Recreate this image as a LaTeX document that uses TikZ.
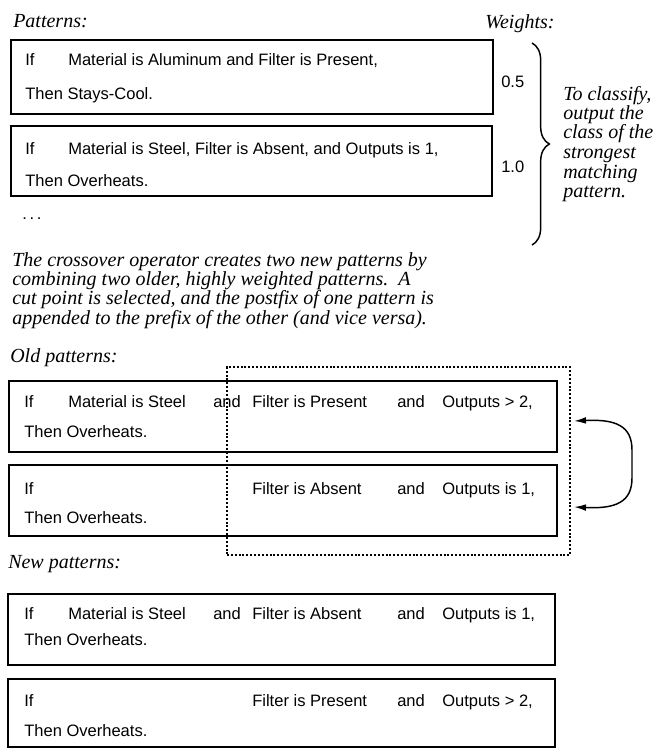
\documentclass[tikz,border=0pt]{standalone}
\usepackage{fontspec}
\setmainfont{Liberation Serif}
\setsansfont{Liberation Sans}
\usetikzlibrary{decorations.pathreplacing,arrows.meta,fit}
\begin{document}
\begin{tikzpicture}[x=0.75pt,y=-0.75pt,
  sanst/.style={font=\sffamily\fontsize{12.4}{14}\selectfont, inner sep=0, anchor=base west},
  itt/.style={font=\itshape\fontsize{15}{15}\selectfont, inner sep=0, anchor=base west},
  pbox/.style={draw, line width=1.4pt, inner sep=0},
  cutbox/.style={draw, line width=1.1pt, dash pattern=on 1.5pt off 1.4pt, inner sep=0},
  swap/.style={{Latex[length=9pt,width=5pt]}-{Latex[length=9pt,width=5pt]}, line width=1.1pt},
  bracestyle/.style={decorate, decoration={brace, amplitude=13pt}, line width=1.1pt},
]
\useasboundingbox (0,0) rectangle (659,750);

% headings
\node[itt] (hpat) at (13,27) {Patterns:};
\node[itt] (hw) at (485,28) {Weights:};

% pattern 1
\node[pbox, fit={(11,40) (493,114)}] (b1) {};
\node[sanst] (b1if) at (25,65) {If};
\node[sanst] (b1c) at (68,65) {Material is Aluminum and Filter is Present,};
\node[sanst] (b1t) at (25,99) {Then Stays-Cool.};
\node[sanst] (w1) at (501,87) {0.5};

% pattern 2
\node[pbox, fit={(11,126) (492,196)}] (b2) {};
\node[sanst] (b2if) at (25,154) {If};
\node[sanst] (b2c) at (68,154) {Material is Steel, Filter is Absent, and Outputs is 1,};
\node[sanst] (b2t) at (25,186) {Then Overheats.};
\node[sanst] (w2) at (501,172) {1.0};

\node[sanst] (dots) at (22,219) {.\,.\,.};

% brace and note
\coordinate (br1) at (532,43);
\coordinate (br2) at (532,245);
\draw[bracestyle] (br1) -- (br2);
\node[itt] (r1) at (563,100) {To classify,};
\node[itt] (r2) at (563,119) {output the};
\node[itt] (r3) at (563,138) {class of the};
\node[itt] (r4) at (563,158) {strongest};
\node[itt] (r5) at (563,178) {matching};
\node[itt] (r6) at (563,197) {pattern.};

% paragraph
\node[itt] (p1) at (12,266) {The crossover operator creates two new patterns by};
\node[itt] (p2) at (12,285) {combining two older, highly weighted patterns.\ \ A};
\node[itt] (p3) at (12,304) {cut point is selected, and the postfix of one pattern is};
\node[itt] (p4) at (12,324) {appended to the prefix of the other (and vice versa).};

% old patterns
\node[itt] (hold) at (10,362) {Old patterns:};
\node[pbox, fit={(9,381) (557,452)}] (o1) {};
\node[sanst] (o1if) at (24,407) {If};
\node[sanst] (o1a) at (68,407) {Material is Steel};
\node[sanst] (o1b) at (213,407) {and};
\node[sanst] (o1c) at (252,407) {Filter is Present};
\node[sanst] (o1d) at (397,407) {and};
\node[sanst] (o1e) at (442,407) {Outputs > 2,};
\node[sanst] (o1t) at (24,437) {Then Overheats.};

\node[pbox, fit={(9,465) (557,536)}] (o2) {};
\node[sanst] (o2if) at (24,494) {If};
\node[sanst] (o2c) at (252,494) {Filter is Absent};
\node[sanst] (o2d) at (397,494) {and};
\node[sanst] (o2e) at (442,494) {Outputs is 1,};
\node[sanst] (o2t) at (24,523) {Then Overheats.};

% cut region
\node[cutbox, fit={(227,367) (570,555)}] (cut) {};
\coordinate (a1) at (574,421);
\coordinate (a2) at (574,507);
\draw[swap] (a1) .. controls (616,419) and (632,426) .. (632,450)
  -- (632,478) .. controls (632,502) and (616,509) .. (a2);

% new patterns
\node[itt] (hnew) at (8,568) {New patterns:};
\node[pbox, fit={(8,594) (555,665)}] (n1) {};
\node[sanst] (n1if) at (24,619) {If};
\node[sanst] (n1a) at (68,619) {Material is Steel};
\node[sanst] (n1b) at (213,619) {and};
\node[sanst] (n1c) at (252,619) {Filter is Absent};
\node[sanst] (n1d) at (397,619) {and};
\node[sanst] (n1e) at (442,619) {Outputs is 1,};
\node[sanst] (n1t) at (24,645) {Then Overheats.};

\node[pbox, fit={(8,679) (555,747)}] (n2) {};
\node[sanst] (n2if) at (24,706) {If};
\node[sanst] (n2c) at (252,706) {Filter is Present};
\node[sanst] (n2d) at (397,706) {and};
\node[sanst] (n2e) at (442,706) {Outputs > 2,};
\node[sanst] (n2t) at (24,736) {Then Overheats.};
\end{tikzpicture}
\end{document}
